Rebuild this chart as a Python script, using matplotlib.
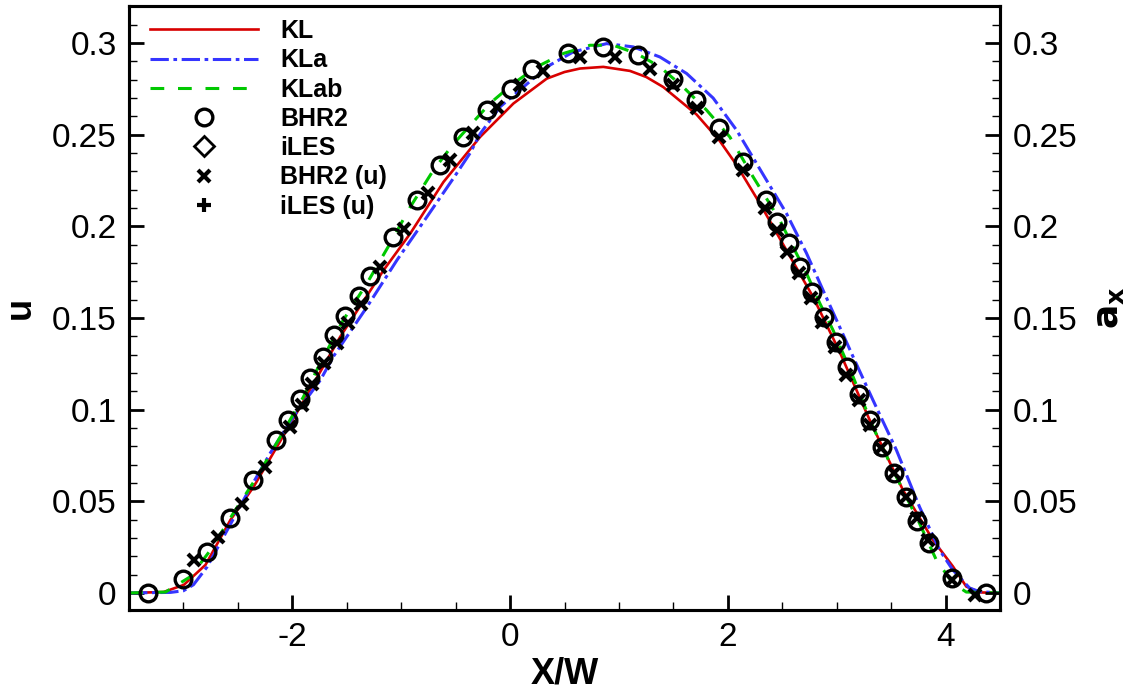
import matplotlib
matplotlib.use("Agg")
import matplotlib.pyplot as plt
from matplotlib.ticker import MultipleLocator, FormatStrFormatter

plt.rcParams['font.family'] = ['Liberation Sans', 'DejaVu Sans']
plt.rcParams['axes.unicode_minus'] = False

# KL model (red, solid)
kl_x = [-3.5, -3.183, -2.997, -2.798, -2.569, -2.355, -2.141, -1.927, -1.560, -1.162,
        -0.917, -0.612, -0.275, 0.030, 0.337, 0.500, 0.642, 0.856, 1.101, 1.250, 1.407,
        1.713, 1.927, 2.080, 2.294, 2.538, 2.783, 3.028, 3.303, 3.608, 3.884, 4.067,
        4.190, 4.312, 4.5]
kl_u = [0.0, 0.0005, 0.0044, 0.0153, 0.0398, 0.0580, 0.0798, 0.1016, 0.1398, 0.1761,
        0.1961, 0.2242, 0.2488, 0.2670, 0.2806, 0.2842, 0.2861, 0.2870, 0.2848, 0.2815, 0.2760,
        0.2610, 0.2465, 0.2335, 0.2125, 0.1870, 0.1615, 0.1314, 0.0943, 0.0562, 0.0289, 0.0145,
        0.0035, 0.0003, 0.0]

# KLa model (blue, dash-dot)
kla_x = [-3.5, -3.119, -3.000, -2.908, -2.783, -2.599, -2.416, -2.202, -1.988, -1.743,
         -1.621, -1.315, -1.039, -0.764, -0.520, -0.367, -0.275, -0.092, 0.122, 0.337,
         0.581, 0.887, 1.131, 1.376, 1.621, 1.865, 2.080, 2.172, 2.355, 2.538,
         2.722, 2.874, 3.028, 3.150, 3.333, 3.548, 3.761, 3.945, 4.067, 4.220,
         4.312, 4.5]
kla_u = [0.0, 0.0003, 0.0012, 0.0045, 0.0142, 0.0342, 0.0542, 0.0764, 0.0964, 0.1161,
         0.1292, 0.1560, 0.1816, 0.2052, 0.2263, 0.2400, 0.2505, 0.2652, 0.2760, 0.2870,
         0.2952, 0.2997, 0.2979, 0.2924, 0.2834, 0.2700, 0.2525, 0.2434, 0.2252, 0.2071,
         0.1854, 0.1652, 0.1450, 0.1289, 0.1052, 0.0780, 0.0469, 0.0234, 0.0125, 0.0027,
         0.0007, 0.0]

# KLab model (green, dashed)
klab_x = [-3.5, -3.165, -2.936, -2.752, -2.541, -2.324, -2.110, -1.899, -1.743, -1.532,
          -1.315, -1.101, -0.917, -0.704, -0.520, -0.183, 0.030, 0.245, 0.489, 0.734,
          0.948, 1.162, 1.376, 1.590, 1.805, 2.018, 2.232, 2.355, 2.477, 2.599,
          2.722, 2.844, 2.966, 3.058, 3.150, 3.333, 3.548, 3.761, 3.915, 4.067,
          4.190, 4.5]
klab_u = [0.0, 0.0005, 0.0089, 0.0234, 0.0436, 0.0634, 0.0853, 0.1069, 0.1254, 0.1489,
          0.1689, 0.1908, 0.2106, 0.2307, 0.2450, 0.2672, 0.2779, 0.2870, 0.2943, 0.2988,
          0.2988, 0.2943, 0.2870, 0.2760, 0.2634, 0.2488, 0.2270, 0.2152, 0.2034, 0.1888,
          0.1745, 0.1581, 0.1434, 0.1307, 0.1180, 0.0905, 0.0633, 0.0379, 0.0180, 0.0053,
          0.0005, 0.0]

# BHR2 (circles)
bhr2_x = [-3.328, -3.003, -2.783, -2.569, -2.361, -2.147, -2.039, -1.927, -1.835, -1.718,
          -1.621, -1.514, -1.392, -1.284, -1.076, -0.856, -0.642, -0.431, -0.214, 0.006,
          0.205, 0.535, 0.856, 1.172, 1.498, 1.706, 1.917, 2.135, 2.349, 2.452,
          2.562, 2.667, 2.777, 2.881, 2.991, 3.094, 3.205, 3.309, 3.419, 3.523,
          3.633, 3.737, 3.847, 4.061, 4.373]
bhr2_u = [0.0, 0.0075, 0.0225, 0.0411, 0.0616, 0.0834, 0.0943, 0.1057, 0.1174, 0.1288,
          0.1407, 0.1512, 0.1621, 0.1730, 0.1942, 0.2143, 0.2334, 0.2486, 0.2634, 0.2752,
          0.2856, 0.2946, 0.2979, 0.2933, 0.2806, 0.2692, 0.2538, 0.2352, 0.2143, 0.2025,
          0.1907, 0.1780, 0.1643, 0.1507, 0.1369, 0.1235, 0.1083, 0.0941, 0.0798, 0.0656,
          0.0525, 0.0394, 0.0274, 0.0080, 0.0]

# BHR2 (u) (x symbols)
bhr2u_x = [-2.906, -2.685, -2.461, -2.248, -2.025, -1.911, -1.819, -1.713, -1.590, -1.489,
           -1.370, -1.193, -0.979, -0.750, -0.550, -0.339, -0.122, 0.092, 0.306, 0.642,
           0.963, 1.284, 1.498, 1.713, 1.920, 2.135, 2.339, 2.447, 2.544, 2.654,
           2.768, 2.869, 2.982, 3.089, 3.205, 3.303, 3.410, 3.523, 3.633, 3.737,
           3.838, 4.061, 4.266]
bhr2u_u = [0.0180, 0.0307, 0.0485, 0.0685, 0.0907, 0.1025, 0.1139, 0.1252, 0.1361, 0.1470,
           0.1579, 0.1779, 0.1988, 0.2183, 0.2361, 0.2508, 0.2652, 0.2770, 0.2848, 0.2924,
           0.2924, 0.2861, 0.2770, 0.2643, 0.2488, 0.2306, 0.2098, 0.1979, 0.1861, 0.1743,
           0.1608, 0.1479, 0.1342, 0.1189, 0.1052, 0.0916, 0.0789, 0.0652, 0.0525, 0.0407,
           0.0289, 0.0071, -0.0010]

fig = plt.figure(figsize=(11.36, 6.92), dpi=100)
ax = fig.add_axes([0.1136, 0.1185, 0.7667, 0.8728])

ax.plot(kl_x, kl_u, color='#d80000', lw=1.9, label='KL')
ax.plot(kla_x, kla_u, color='#3535ff', lw=2.2, linestyle=(0, (6, 1.5, 1.2, 1.5)), label='KLa')
ax.plot(klab_x, klab_u, color='#00c800', lw=2.2, linestyle=(0, (4.5, 4.5)), label='KLab')
ax.plot(bhr2_x, bhr2_u, linestyle='none', marker='o', ms=12, mfc='none', mec='black',
        mew=2.4, label='BHR2')
ax.plot([], [], linestyle='none', marker='D', ms=10, mfc='none', mec='black', mew=2.0,
        label='iLES')
ax.plot(bhr2u_x, bhr2u_u, linestyle='none', marker='x', ms=9, mec='black', mew=3.0,
        label='BHR2 (u)')
ax.plot([], [], linestyle='none', marker='+', ms=10, mec='black', mew=3.0,
        label='iLES (u)')

ax.set_xlim(-3.5, 4.5)
ax.set_ylim(-0.0093, 0.3202)
ax.xaxis.set_major_locator(MultipleLocator(2))
ax.xaxis.set_minor_locator(MultipleLocator(0.5))
ax.yaxis.set_major_locator(MultipleLocator(0.05))
ax.yaxis.set_minor_locator(MultipleLocator(0.01))
ax.xaxis.set_major_formatter(FormatStrFormatter('%g'))
ax.yaxis.set_major_formatter(FormatStrFormatter('%g'))
ax.tick_params(which='major', direction='in', length=11, width=2, labelsize=24, pad=9)
ax.tick_params(which='minor', direction='in', length=6, width=1)
ax.tick_params(axis='x', which='both', top=False)
for s in ax.spines.values():
    s.set_linewidth(2.2)

ax.set_xlabel('X/W', fontsize=26, fontweight='bold', labelpad=2)
ax.set_ylabel('u', fontsize=26, fontweight='bold', labelpad=10)

ax2 = ax.twinx()
ax2.set_ylim(ax.get_ylim())
ax2.yaxis.set_major_locator(MultipleLocator(0.05))
ax2.yaxis.set_minor_locator(MultipleLocator(0.01))
ax2.yaxis.set_major_formatter(FormatStrFormatter('%g'))
ax2.tick_params(which='major', direction='in', length=11, width=2, labelsize=24, pad=9)
ax2.tick_params(which='minor', direction='in', length=6, width=1)
ax2.set_ylabel(r'$\mathbf{a_x}$', fontsize=26, labelpad=10)
for s in ax2.spines.values():
    s.set_linewidth(2.2)

ax.legend(loc='upper left', bbox_to_anchor=(21 / 871, 1 - 13 / 604), frameon=False,
          prop={'size': 18, 'weight': 'bold'}, handlelength=4.3, handletextpad=0.9,
          labelspacing=0.21, borderaxespad=0, borderpad=0, numpoints=1)

fig.savefig('out.png', dpi=100)
